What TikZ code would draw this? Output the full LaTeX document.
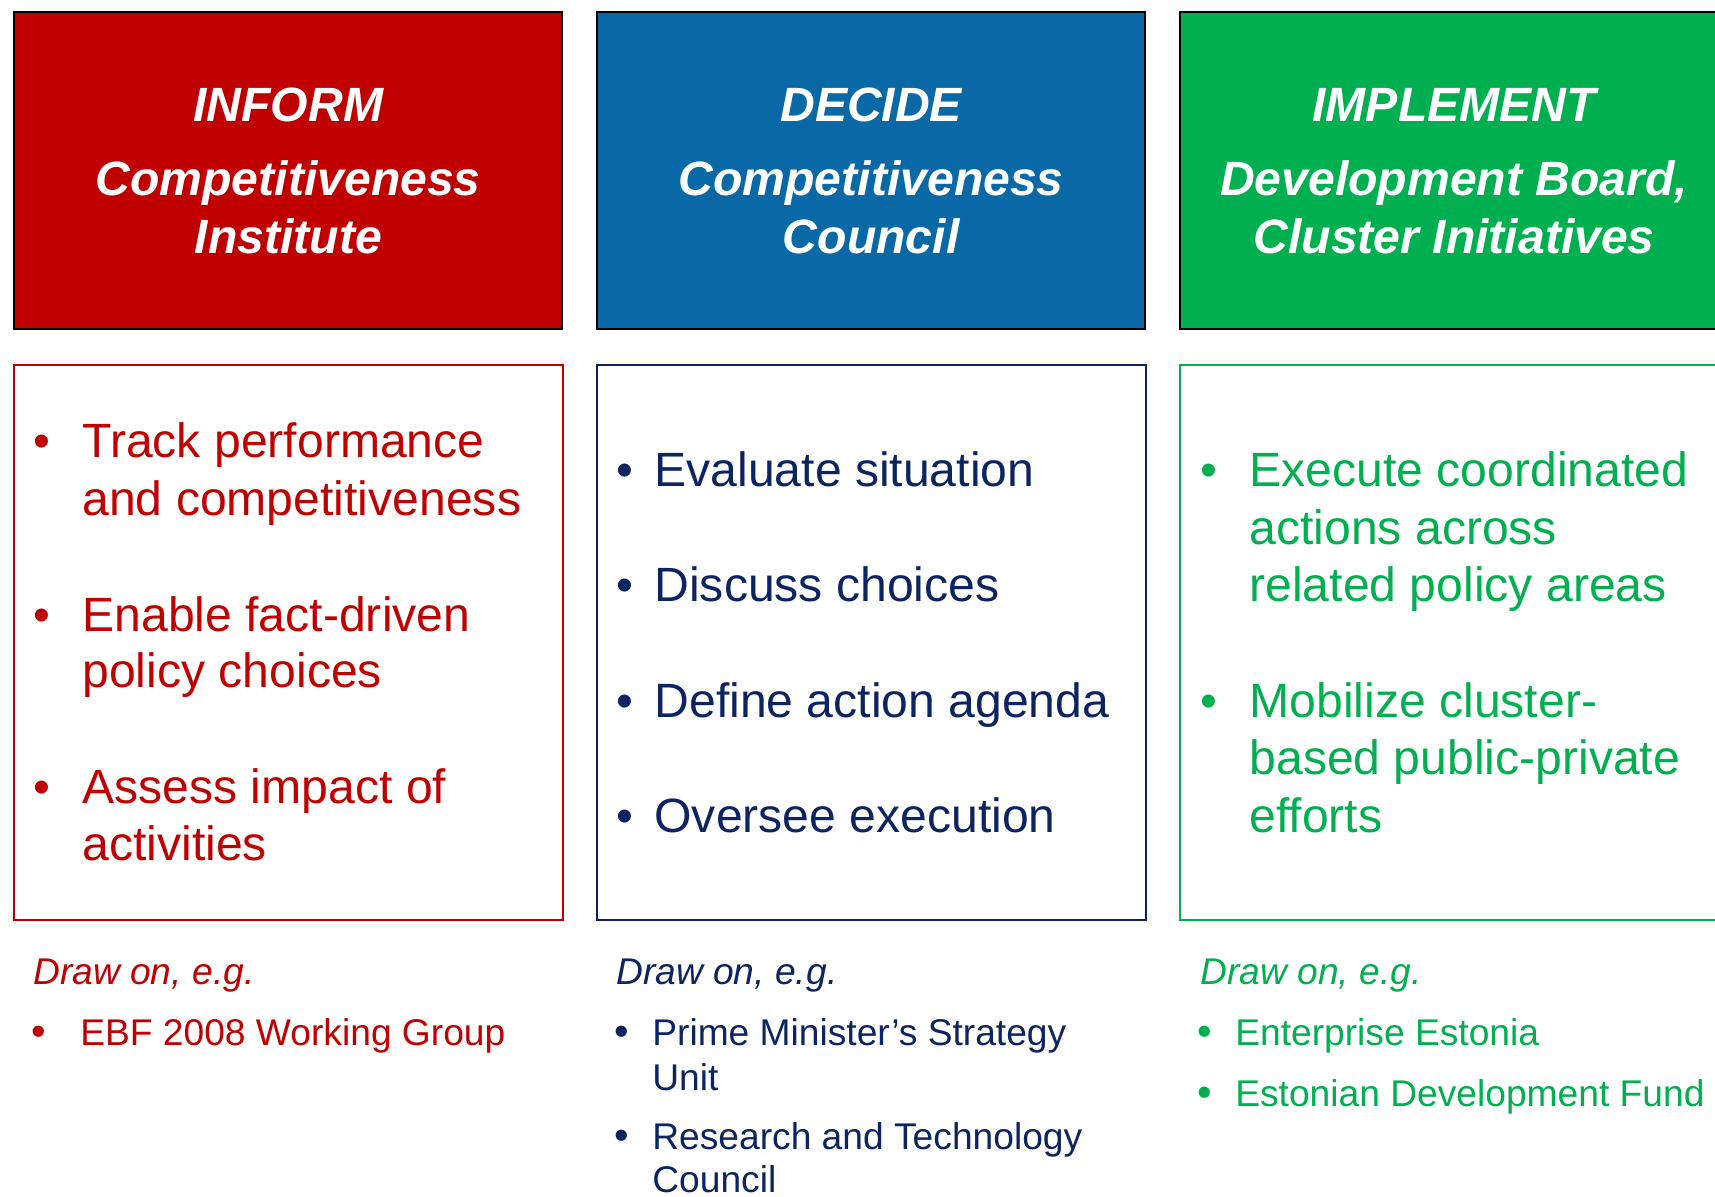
\documentclass[tikz,border=0pt]{standalone}
\usepackage{fontspec}
\setmainfont{Liberation Sans}
\definecolor{redfill}{HTML}{C00000}
\definecolor{bluefill}{HTML}{0869A6}
\definecolor{greenfill}{HTML}{00B050}
\definecolor{navy}{HTML}{0C2461}
\begin{document}
\begin{tikzpicture}[x=0.5pt,y=-0.5pt,
  hdrbox/.style={draw=black,line width=1pt,anchor=north west,inner sep=0pt,minimum width=250.5pt,minimum height=145pt},
  bodybox/.style={line width=0.8pt,anchor=north west,inner sep=0pt,minimum width=251pt,minimum height=253.5pt},
  htext/.style={anchor=base,inner sep=0pt,text=white,font=\fontsize{22}{26}\selectfont\bfseries\itshape},
  btext/.style={anchor=base west,inner sep=0pt,font=\fontsize{22}{26}\selectfont},
  stext/.style={anchor=base west,inner sep=0pt,font=\fontsize{17}{20}\selectfont},
  sbul/.style={anchor=base west,inner sep=0pt,font=\fontsize{19}{20}\selectfont},
  itext/.style={anchor=base west,inner sep=0pt,font=\fontsize{17}{20}\selectfont\itshape}]
\useasboundingbox (0,0) rectangle (1568,1094);
\clip (0,0) rectangle (1568,1094);
\fill[white] (0,0) rectangle (1568,1094);
% header boxes
\node[hdrbox,fill=redfill] (h1) at (12,10) {};
\node[hdrbox,fill=bluefill] (h2) at (545,10) {};
\node[hdrbox,fill=greenfill] (h3) at (1078,10) {};
% header texts
\node[htext] (h1a) at (263.5,111) {INFORM};
\node[htext] (h1b) at (263.5,179) {Competitiveness};
\node[htext] (h1c) at (263.5,232) {Institute};
\node[htext] (h2a) at (796.5,111) {DECIDE};
\node[htext] (h2b) at (796.5,179) {Competitiveness};
\node[htext] (h2c) at (796.5,232) {Council};
\node[htext] (h3a) at (1329.5,111) {IMPLEMENT};
\node[htext] (h3b) at (1329.5,179) {Development Board,};
\node[htext] (h3c) at (1329.5,232) {Cluster Initiatives};
% body boxes
\node[bodybox,draw=redfill] (b1) at (12,333) {};
\node[bodybox,draw=navy] (b2) at (545,333) {};
\node[bodybox,draw=greenfill] (b3) at (1078,333) {};
% red body
\begin{scope}[every node/.append style={text=redfill}]
\node[btext] (r1b) at (30,418) {•};
\node[btext] (r1a) at (75,418) {Track performance};
\node[btext] (r1c) at (75,471) {and competitiveness};
\node[btext] (r2b) at (30,577) {•};
\node[btext] (r2a) at (75,577) {Enable fact-driven};
\node[btext] (r2c) at (75,629) {policy choices};
\node[btext] (r3b) at (30,735) {•};
\node[btext] (r3a) at (75,735) {Assess impact of};
\node[btext] (r3c) at (75,787) {activities};
\node[itext] (rd) at (30,900) {Draw on, e.g.};
\node[sbul] (re1b) at (28,956) {•};
\node[stext] (re1) at (73,956) {EBF 2008 Working Group};
\end{scope}
% blue body
\begin{scope}[every node/.append style={text=navy}]
\node[btext] (n1b) at (563,445) {•};
\node[btext] (n1) at (598,445) {Evaluate situation};
\node[btext] (n2b) at (563,550) {•};
\node[btext] (n2) at (598,550) {Discuss choices};
\node[btext] (n3b) at (563,656) {•};
\node[btext] (n3) at (598,656) {Define action agenda};
\node[btext] (n4b) at (563,761) {•};
\node[btext] (n4) at (598,761) {Oversee execution};
\node[itext] (nd) at (563,900) {Draw on, e.g.};
\node[sbul] (ne1b) at (561,956) {•};
\node[stext] (ne1) at (596,956) {Prime Minister’s Strategy};
\node[stext] (ne1c) at (596,997) {Unit};
\node[sbul] (ne2b) at (561,1051) {•};
\node[stext] (ne2) at (596,1051) {Research and Technology};
\node[stext] (ne2c) at (596,1090) {Council};
\end{scope}
% green body
\begin{scope}[every node/.append style={text=greenfill}]
\node[btext] (g1b) at (1097,445) {•};
\node[btext] (g1) at (1142,445) {Execute coordinated};
\node[btext] (g1c) at (1142,498) {actions across};
\node[btext] (g1d) at (1142,550) {related policy areas};
\node[btext] (g2b) at (1097,656) {•};
\node[btext] (g2) at (1142,656) {Mobilize cluster-};
\node[btext] (g2c) at (1142,708) {based public-private};
\node[btext] (g2d) at (1142,761) {efforts};
\node[itext] (gd) at (1097,900) {Draw on, e.g.};
\node[sbul] (ge1b) at (1094,956) {•};
\node[stext] (ge1) at (1129,956) {Enterprise Estonia};
\node[sbul] (ge2b) at (1094,1012) {•};
\node[stext] (ge2) at (1129,1012) {Estonian Development Fund};
\end{scope}
\end{tikzpicture}
\end{document}
